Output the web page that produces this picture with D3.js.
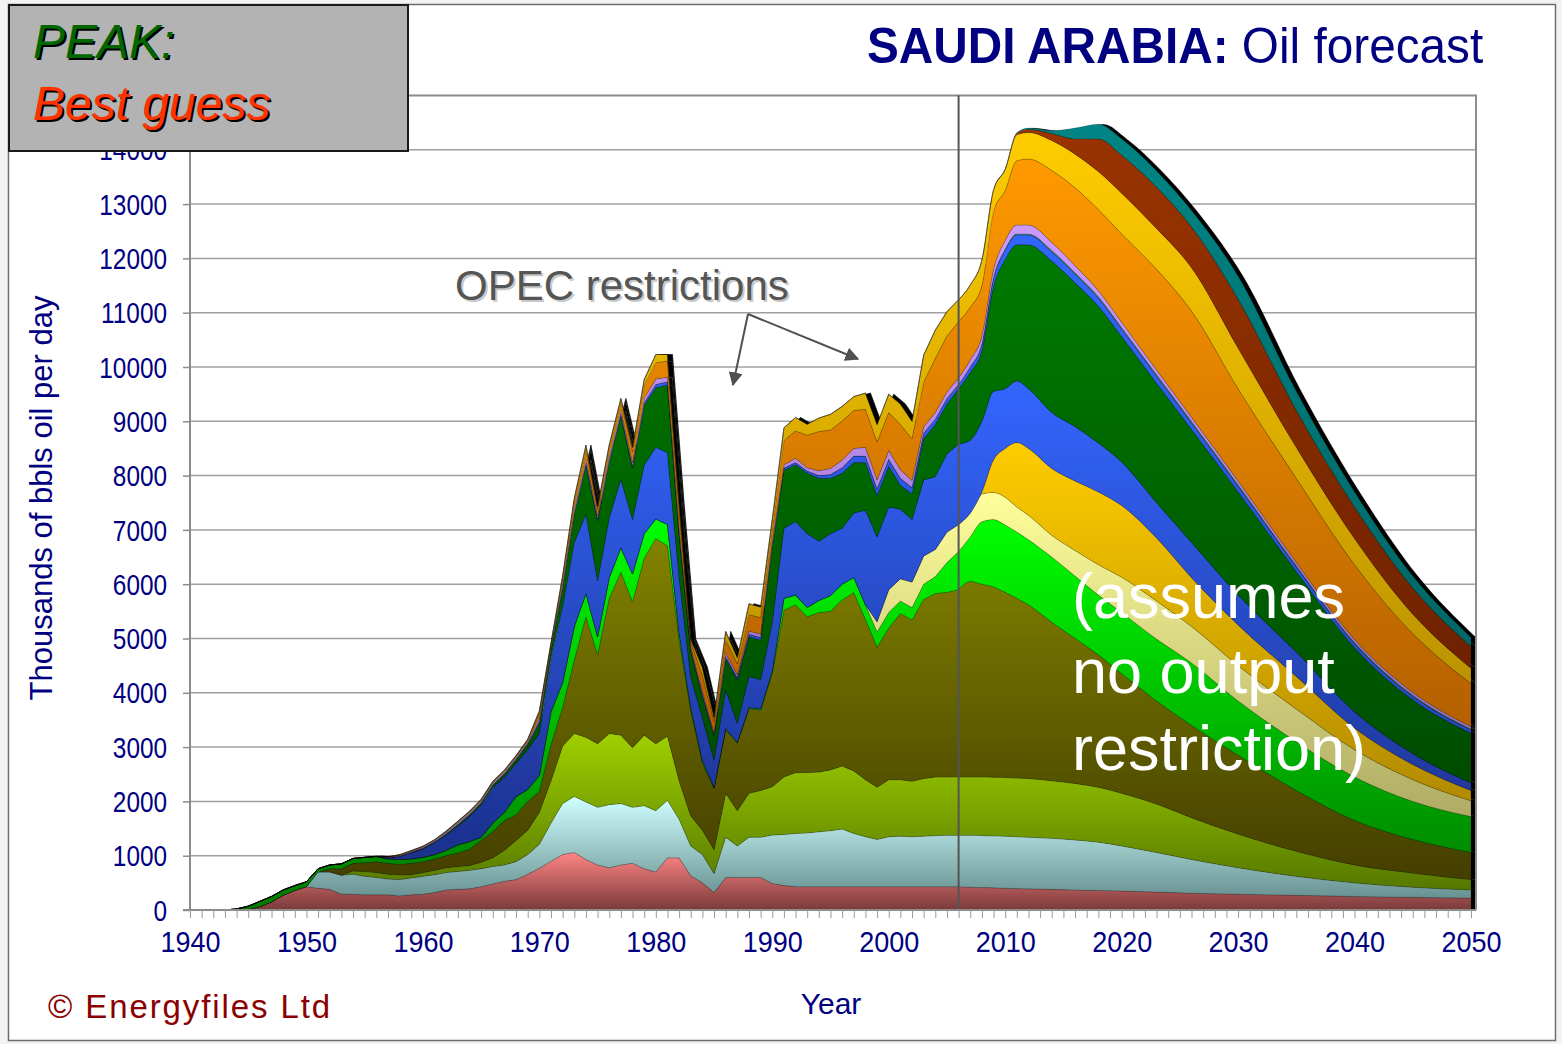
<!DOCTYPE html>
<html><head><meta charset="utf-8">
<script src="https://cdn.jsdelivr.net/npm/d3@7"></script>
<style>
body{margin:0;background:#f2f2f2;}
svg{display:block;}
text{font-family:"Liberation Sans",Arial,Helvetica,sans-serif;}
</style></head>
<body><svg id="c" width="1562" height="1044"></svg>
<script>
// ---------- DATA (thousand barrels per day, by field group) ----------
const years = [1940,1941,1942,1943,1944,1945,1946,1947,1948,1949,1950,
1951,1952,1953,1954,1955,1956,1957,1958,1959,
1960,1961,1962,1963,1964,1965,1966,1967,1968,1969,
1970,1971,1972,1973,1974,1975,1976,1977,1978,1979,
1980,1981,1982,1983,1984,1985,1986,1987,1988,1989,
1990,1991,1992,1993,1994,1995,1996,1997,1998,1999,
2000,2001,2002,2003,2004,2005,2006,
2007,2008,2009,2010,2011,2012,2014,2016,2018,2020,2023,2026,2030,2035,2040,2045,2050];

const red = [0,0,0,0,0,10,60,150,270,360,430,
400,380,290,290,280,280,280,260,280,
290,320,370,380,390,430,480,530,560,660,
770,900,1020,1060,930,830,780,830,860,760,
700,960,960,630,500,320,600,600,600,600,
490,450,430,430,430,430,430,430,430,430,
430,430,430,430,430,430,430,
420,415,410,400,395,390,380,370,360,350,330,310,290,270,250,235,220];

const cyan = [0,0,0,0,0,0,0,0,0,0,0,
300,320,350,370,340,320,290,300,310,
330,330,320,330,340,330,320,300,330,360,
440,700,940,1030,1060,1060,1160,1130,1030,1160,
1130,1060,710,550,520,350,740,580,740,740,
890,940,980,990,1010,1030,1060,980,920,870,
920,930,920,930,940,945,945,
955,955,955,960,955,950,940,920,890,830,730,620,490,350,250,185,150];

const yellowGreen = [0,0,0,0,0,0,0,0,0,0,0,
0,0,0,60,90,90,90,90,60,
70,80,90,90,90,120,160,270,390,450,
590,780,1060,1160,1190,1170,1310,1260,1100,1300,
1230,1180,710,550,450,440,810,650,810,860,
890,1060,1120,1110,1100,1120,1160,1150,1050,960,
1050,1040,1020,1060,1080,1075,1075,
1075,1080,1080,1080,1080,1080,1060,1040,1010,970,890,770,620,460,330,260,190];

const darkOlive = [0,0,0,0,0,0,0,0,0,0,0,
0,60,120,140,160,200,200,190,210,
200,210,220,250,300,400,480,550,470,530,
380,670,710,1350,2220,1640,2490,3000,2680,3260,
3780,3510,2580,1940,1230,1130,1170,1240,1560,1480,
2090,3070,3090,2870,2940,2920,3060,3285,2950,2580,
2790,3060,2970,3300,3380,3400,3450,
3600,3550,3505,3410,3310,3200,2920,2670,2440,2200,1900,1700,1450,1120,820,620,500];

const brightGreen = [0,0,0,0,20,60,100,100,100,90,90,
60,70,90,90,100,95,80,90,80,
80,80,100,150,140,60,160,150,340,220,
300,600,460,620,430,330,380,450,520,450,
360,390,140,60,50,20,20,20,20,20,
40,220,180,170,220,290,290,280,270,280,
290,230,230,280,310,550,700,
820,1150,1240,1240,1220,1200,1200,1150,1100,1130,1140,1150,1000,900,800,700,660];

const lightYellow = [0,0,0,0,0,0,0,0,0,0,0,
0,0,0,0,0,0,0,0,0,
0,0,0,0,0,0,0,0,0,0,
0,0,0,0,0,0,0,0,0,0,
0,0,0,0,0,0,0,0,0,0,
0,0,0,0,0,0,0,0,0,190,
420,410,470,520,500,560,500,
440,510,500,510,460,450,400,470,560,650,700,670,650,600,500,400,290];

const goldYellow = [0,0,0,0,0,0,0,0,0,0,0,
0,0,0,0,0,0,0,0,0,
0,0,0,0,0,0,0,0,0,0,
0,0,0,0,0,0,0,0,0,0,
0,0,0,0,0,0,0,0,0,0,
0,0,0,0,0,0,0,0,0,0,
0,0,0,0,0,0,0,
0,40,600,900,1190,1230,1230,1280,1340,1320,1160,900,750,600,400,280,190];

const blue = [0,0,0,0,0,0,0,0,0,0,0,
0,0,0,0,0,0,20,60,110,
150,220,280,340,460,590,650,650,610,730,
770,970,1410,1550,1460,1030,1100,1260,1000,1260,
1320,1320,1020,550,790,500,710,350,570,540,
900,1290,1350,1360,1090,1140,1030,1185,1740,1560,
1520,1280,1150,1400,1340,1440,1480,
1340,1300,1260,1100,1130,1100,1030,1000,900,800,650,650,550,450,300,200,140];

const darkGreen = [0,0,0,0,0,0,0,0,0,0,0,
0,0,0,0,0,0,0,0,10,
10,10,20,30,30,40,50,60,70,110,
200,180,330,520,900,1100,1030,1170,940,1100,
1100,1250,780,490,390,440,580,800,730,730,
1400,1070,1050,1115,1160,1020,1015,930,880,760,
750,440,470,760,960,920,1020,
1250,1300,1930,2380,2510,2650,2790,2650,2520,2310,2200,2080,1900,1480,1180,990,915];

const thinBlue = [0,0,0,0,0,0,0,0,0,0,0,
0,0,0,0,0,0,0,0,5,
5,5,10,10,10,10,10,10,15,15,
30,20,30,30,40,40,40,40,40,50,
60,60,60,30,40,30,40,40,50,50,
50,40,40,40,50,70,100,120,120,130,
130,130,120,100,100,100,80,
100,120,150,170,180,180,170,160,150,140,130,120,105,90,75,65,55];

const thinGreen = [0,0,0,0,0,0,0,0,0,0,0,
0,0,0,0,0,0,0,0,0,
0,0,0,0,0,0,0,0,0,0,
0,0,0,0,0,0,0,0,0,0,
0,0,0,0,0,0,0,0,0,0,
0,0,0,0,0,0,0,0,0,0,
0,0,0,0,0,0,0,
0,10,15,20,20,20,25,25,25,25,25,25,25,20,20,20,20];

const lavender = [0,0,0,0,0,0,0,0,0,0,0,
0,0,0,0,0,5,10,15,15,
20,20,25,30,30,30,30,30,30,30,
60,40,60,60,70,60,70,70,70,80,
100,80,80,40,50,40,60,50,60,60,
50,60,80,60,90,110,140,140,160,160,
160,160,130,120,120,120,120,
130,140,150,160,165,165,150,130,110,100,90,80,70,60,55,50,45];

const orange = [0,0,0,0,0,0,0,0,0,0,0,
0,0,0,0,0,0,10,10,10,
15,15,15,20,20,20,20,20,20,30,
100,40,100,150,180,120,150,150,200,250,
300,300,300,100,300,200,250,200,300,300,
250,450,500,600,720,710,720,700,700,700,
700,830,770,820,1000,1030,1040,
970,930,1065,920,1185,1215,1325,1435,1495,1625,1855,1955,1700,1550,1380,1085,795];

const gold = [0,0,0,0,0,0,0,0,0,0,0,
0,0,0,0,0,0,0,5,5,
5,5,5,5,10,10,10,10,10,10,
30,20,40,60,80,50,60,60,80,100,
150,120,150,50,150,80,150,120,200,200,
150,230,250,200,250,290,270,255,300,320,
340,380,320,500,520,450,400,
410,470,400,390,475,490,550,620,700,750,750,800,750,570,480,360,280];

const brown = [0,0,0,0,0,0,0,0,0,0,0,
0,0,0,0,0,0,0,0,0,
0,0,0,0,0,0,0,0,0,0,
0,0,0,0,0,0,0,0,0,0,
0,0,0,0,0,0,0,0,0,0,
0,0,0,0,0,0,0,0,0,0,
0,0,0,0,0,0,0,
0,0,0,0,30,60,130,280,600,700,760,750,900,680,580,480,400];

const teal = [0,0,0,0,0,0,0,0,0,0,0,
0,0,0,0,0,0,0,0,0,
0,0,0,0,0,0,0,0,0,0,
0,0,0,0,0,0,0,0,0,0,
0,0,0,0,0,0,0,0,0,0,
0,0,0,0,0,0,0,0,0,0,
0,0,0,0,0,0,0,
0,0,0,10,10,20,50,200,270,300,300,300,420,350,280,220,170];

const yTicks = [0,1000,2000,3000,4000,5000,6000,7000,8000,9000,10000,11000,12000,13000,14000];
const xTickLabels = [1940,1950,1960,1970,1980,1990,2000,2010,2020,2030,2040,2050];
const presentYear = 2006;

// layer order bottom -> top, gradient (top colour, bottom colour)
const layers = [
 {key:"red", v:red, c:["#ff8585","#7a3a3a"]},
 {key:"cyan", v:cyan, c:["#d0ffff","#5c8585"]},
 {key:"yellowGreen", v:yellowGreen, c:["#9fd000","#4c6c00"]},
 {key:"darkOlive", v:darkOlive, c:["#828200","#3e3800"]},
 {key:"brightGreen", v:brightGreen, c:["#00ff00","#007800"]},
 {key:"lightYellow", v:lightYellow, c:["#ffff9c","#979355"]},
 {key:"goldYellow", v:goldYellow, c:["#ffcc00","#9a7600"]},
 {key:"blue", v:blue, c:["#3366ff","#1a2a80"]},
 {key:"darkGreen", v:darkGreen, c:["#007a00","#004200"]},
 {key:"thinBlue", v:thinBlue, c:["#3366ff","#2040b0"]},
 {key:"thinGreen", v:thinGreen, c:["#3a9a6a","#206040"]},
 {key:"lavender", v:lavender, c:["#cc99ff","#8a66b0"]},
 {key:"orange", v:orange, c:["#ff9900","#9c4e00"]},
 {key:"gold", v:gold, c:["#ffcc00","#a07c00"]},
 {key:"brown", v:brown, c:["#993300","#5c1c00"]},
 {key:"teal", v:teal, c:["#008484","#005858"]}
];

// ---------- CHART ----------
const svg = d3.select("#c");
const x = d3.scaleLinear().domain([1940,2050]).range([190,1471]);
const y = d3.scaleLinear().domain([0,15000]).range([910,95.5]);
const plotL = 190, plotR = 1476, plotT = y(15000), plotB = y(0);

const table = years.map((yr,i)=>{
  const o = {year:yr};
  layers.forEach(l=>o[l.key]=l.v[i]);
  return o;
});
const series = d3.stack().keys(layers.map(l=>l.key))(table);

const defs = svg.append("defs");
series.forEach((s,i)=>{
  const l = layers[i];
  const top = d3.min(s,d=>y(d[1])), bot = d3.max(s,d=>y(d[0]));
  const g = defs.append("linearGradient").attr("id","g_"+l.key)
    .attr("gradientUnits","userSpaceOnUse")
    .attr("x1",0).attr("y1",top).attr("x2",0).attr("y2",bot);
  g.append("stop").attr("offset","0%").attr("stop-color",l.c[0]);
  g.append("stop").attr("offset","100%").attr("stop-color",l.c[1]);
});
const f = defs.append("filter").attr("id","shadow")
  .attr("x","-2%").attr("y","-2%").attr("width","104%").attr("height","104%");
f.append("feOffset").attr("in","SourceAlpha").attr("dx",5).attr("dy",0).attr("result","off");
const fm = f.append("feMerge");
fm.append("feMergeNode").attr("in","off");
fm.append("feMergeNode").attr("in","SourceGraphic");

// page frame
svg.append("rect").attr("x",8.5).attr("y",4.5).attr("width",1547).attr("height",1036)
  .attr("fill","#ffffff").attr("stroke","#6e6e6e").attr("stroke-width",1.5);

// gridlines
svg.append("g").selectAll("line").data(yTicks.filter(d=>d>0)).join("line")
  .attr("x1",plotL).attr("x2",plotR).attr("y1",d=>y(d)).attr("y2",d=>y(d))
  .attr("stroke","#a0a0a0").attr("stroke-width",1.5);

// stacked areas: history drawn straight, forecast drawn smooth
const areaHist = d3.area().x(d=>x(d.data.year)).y0(d=>y(d[0])).y1(d=>y(d[1])).curve(d3.curveLinear);
const areaFc = d3.area().x(d=>x(d.data.year)).y0(d=>y(d[0])).y1(d=>y(d[1])).curve(d3.curveMonotoneX);
const gA = svg.append("g").attr("filter","url(#shadow)");
series.forEach(s=>{
  const hist = s.filter(d=>d.data.year<=presentYear);
  const fc = s.filter(d=>d.data.year>=presentYear);
  [[hist,areaHist],[fc,areaFc]].forEach(([pts,gen])=>{
    gA.append("path").attr("d",gen(pts))
      .attr("fill","url(#g_"+s.key+")")
      .attr("stroke","rgba(0,0,0,0.3)").attr("stroke-width",0.6);
  });
});

// plot border (top/right)
svg.append("path")
  .attr("d",`M${plotL},${plotT}H${plotR}V${plotB}`)
  .attr("fill","none").attr("stroke","#8c8c8c").attr("stroke-width",2);

// present-year vertical line
svg.append("line").attr("x1",x(presentYear)).attr("x2",x(presentYear))
  .attr("y1",plotT).attr("y2",plotB)
  .attr("stroke","#555555").attr("stroke-width",2);

// axes
const yAxis = d3.axisLeft(y).tickValues(yTicks).tickSize(7).tickFormat(d3.format("d"));
const gy = svg.append("g").attr("transform",`translate(${plotL},0)`).call(yAxis);
gy.select(".domain").attr("stroke","#8c8c8c").attr("stroke-width",2)
  .attr("d",`M-7,${plotT}H0V${plotB}H-7`);
gy.selectAll(".tick line").attr("stroke","#8c8c8c").attr("stroke-width",1.5);
gy.selectAll(".tick text").attr("fill","#000080").attr("font-size",29)
  .attr("dy","0.35em").attr("font-family","'Liberation Sans',Arial,sans-serif")
  .attr("transform","scale(0.84,1)").attr("x",-23/0.84);

const xAxis = d3.axisBottom(x).tickValues(d3.range(1940,2051,1)).tickSize(8)
  .tickFormat(d=>xTickLabels.includes(d)?String(d):"");
const gx = svg.append("g").attr("transform",`translate(0,${plotB})`).call(xAxis);
gx.select(".domain").attr("stroke","#8c8c8c").attr("stroke-width",2)
  .attr("d",`M${plotL},0H${plotR}`);
gx.selectAll(".tick line").attr("stroke","#999999").attr("stroke-width",1);
gx.selectAll(".tick text").attr("fill","#000080").attr("font-size",30)
  .attr("y",32).attr("dy","0.35em").attr("x",0)
  .attr("font-family","'Liberation Sans',Arial,sans-serif")
  .attr("transform","scale(0.9,1)");

// axis titles
svg.append("text").attr("transform","translate(52,498) rotate(-90)")
  .attr("text-anchor","middle").attr("fill","#000080").attr("font-size",31)
  .text("Thousands of bbls oil per day");
svg.append("text").attr("x",831).attr("y",1014).attr("text-anchor","middle")
  .attr("fill","#000080").attr("font-size",30).text("Year");

// copyright
svg.append("text").attr("x",48).attr("y",1018).attr("fill","#8b0000")
  .attr("font-size",33).attr("letter-spacing",1.9).text("© Energyfiles Ltd");

// title
const title = svg.append("text").attr("transform","translate(867,63) scale(0.955,1)")
  .attr("fill","#000080").attr("font-size",50);
title.append("tspan").attr("font-weight","bold").text("SAUDI ARABIA:");
title.append("tspan").text(" Oil forecast");

// annotations
svg.append("text").attr("x",457).attr("y",302).attr("fill","#c8c8c8").attr("font-size",42).text("OPEC restrictions");
svg.append("text").attr("x",455).attr("y",300).attr("fill","#555555").attr("font-size",42).text("OPEC restrictions");
defs.append("marker").attr("id","arr").attr("viewBox","0 0 10 10").attr("refX",9).attr("refY",5)
  .attr("markerWidth",7).attr("markerHeight",7).attr("orient","auto-start-reverse")
  .append("path").attr("d","M0,0L10,5L0,10z").attr("fill","#505050");
svg.append("line").attr("x1",748).attr("y1",314).attr("x2",733).attr("y2",385)
  .attr("stroke","#505050").attr("stroke-width",2).attr("marker-end","url(#arr)");
svg.append("line").attr("x1",748).attr("y1",314).attr("x2",858).attr("y2",359)
  .attr("stroke","#505050").attr("stroke-width",2).attr("marker-end","url(#arr)");

const note = svg.append("text").attr("fill","#ffffff").attr("font-size",63);
[["(assumes",618],["no output",693],["restriction)",770]].forEach(([t,yy])=>{
  note.append("tspan").attr("x",1072).attr("y",yy).text(t);
});

// PEAK box
svg.append("rect").attr("x",9).attr("y",5).attr("width",399).attr("height",146)
  .attr("fill","#b3b3b3").attr("stroke","#1a1a1a").attr("stroke-width",2);
[["PEAK:",58,"#006600"],["Best guess",120,"#ff3300"]].forEach(([t,yy,c])=>{
  svg.append("text").attr("x",35).attr("y",yy+2).attr("font-size",48).attr("font-style","italic")
    .attr("fill","#000000").text(t);
  svg.append("text").attr("x",33).attr("y",yy).attr("font-size",48).attr("font-style","italic")
    .attr("fill",c).text(t);
});
</script></body></html>
